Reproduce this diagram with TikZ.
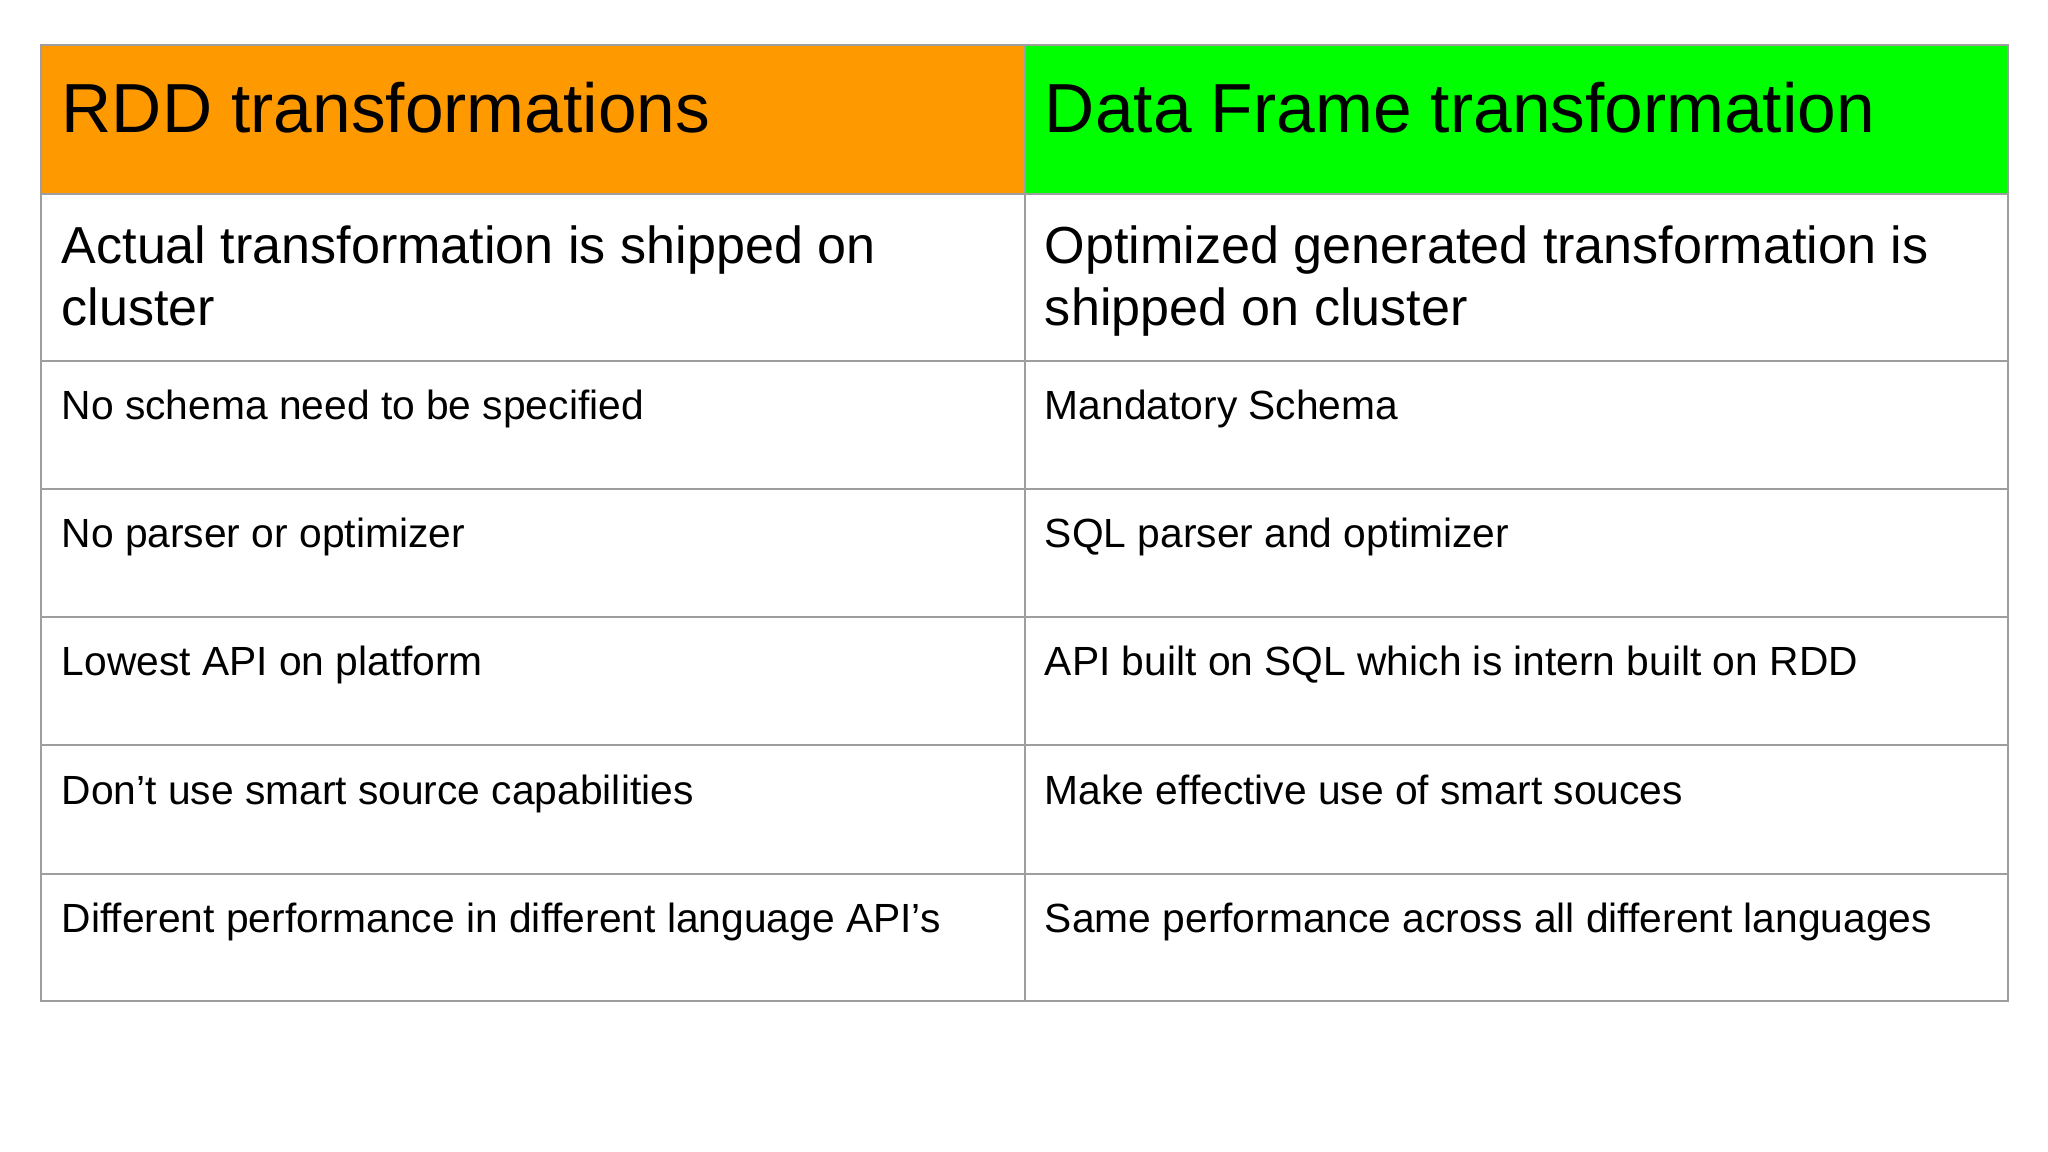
\documentclass[tikz,border=0pt]{standalone}
\usepackage{fontspec}
\setmainfont{Liberation Sans}
\definecolor{org}{HTML}{FF9900}
\definecolor{grn}{HTML}{00FF00}
\definecolor{grid}{HTML}{9E9E9E}
\begin{document}
\begin{tikzpicture}[x=1pt,y=-1pt,
  hd/.style={anchor=base west,inner sep=0pt,font=\fontsize{52}{58}\selectfont},
  md/.style={anchor=base west,inner sep=0pt,font=\fontsize{39}{47}\selectfont,align=left},
  sm/.style={anchor=base west,inner sep=0pt,font=\fontsize{30.5}{36}\selectfont}]
\useasboundingbox (0,0) rectangle (1533,862);
\fill[white] (0,0) rectangle (1533,862);
\fill[org] (31,34) rectangle (767,145);
\fill[grn] (767,34) rectangle (1503,145);
\draw[grid,line width=1.5pt] (31,34) rectangle (1503,749);
\draw[grid,line width=1.5pt] (767,34) -- (767,749);
\foreach \y in {145,270,366,462,558,654} \draw[grid,line width=1.5pt] (31,\y) -- (1503,\y);
\node[hd] (h1) at (46,99) {RDD transformations};
\node[hd] (h2) at (782,99) {Data Frame transformation};
\node[md] (a1) at (46,244) {Actual transformation is shipped on\\cluster};
\node[md] (a2) at (782,244) {Optimized generated transformation is\\shipped on cluster};
\node[sm] (b1) at (46,314) {No schema need to be specified};
\node[sm] (b2) at (782,314) {Mandatory Schema};
\node[sm] (c1) at (46,410) {No parser or optimizer};
\node[sm] (c2) at (782,410) {SQL parser and optimizer};
\node[sm] (d1) at (46,506) {Lowest API on platform};
\node[sm] (d2) at (782,506) {API built on SQL which is intern built on RDD};
\node[sm] (e1) at (46,602) {Don’t use smart source capabilities};
\node[sm] (e2) at (782,602) {Make effective use of smart souces};
\node[sm] (f1) at (46,698) {Different performance in different language API’s};
\node[sm] (f2) at (782,698) {Same performance across all different languages};
\end{tikzpicture}
\end{document}
